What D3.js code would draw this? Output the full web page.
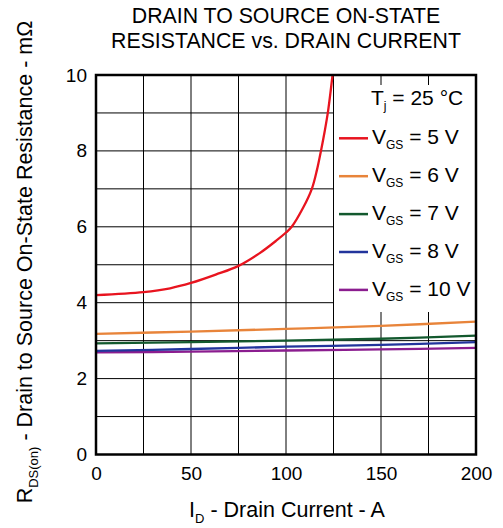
<!DOCTYPE html>
<html><head><meta charset="utf-8">
<script src="https://cdn.jsdelivr.net/npm/d3@7"></script>
<style>body{margin:0;background:#fff}svg{display:block;font-family:"Liberation Sans",Arial,sans-serif}</style>
</head><body><svg id="c" width="503" height="528"></svg>
<script>
const xTicks = [0, 50, 100, 150, 200];
const yTicks = [0, 2, 4, 6, 8, 10];
const seriesNames = ["5 V", "6 V", "7 V", "8 V", "10 V"];
const seriesColors = ["#e8141f", "#e8843a", "#13592e", "#22349c", "#8b1d8f"];
const vgs5 = [[0,4.2],[25,4.28],[39,4.38],[50,4.52],[63,4.74],[75,4.97],[86,5.3],[95,5.64],[100,5.85],[103,6.0],[109,6.5],[113.6,7.0],[116.3,7.5],[118.4,8.0],[120.3,8.5],[122,9.0],[124.5,10]];
const vgs6 = [[0,3.18],[50,3.24],[100,3.31],[150,3.39],[200,3.5]];
const vgs7 = [[0,2.93],[50,2.96],[100,3.0],[150,3.05],[200,3.13]];
const vgs8 = [[0,2.73],[50,2.78],[100,2.84],[150,2.89],[200,2.96]];
const vgs10 = [[0,2.69],[50,2.71],[100,2.74],[150,2.77],[200,2.81]];
const series = [vgs5, vgs6, vgs7, vgs8, vgs10];

const svg = d3.select("#c");
const L = 96, R = 476, T = 75, B = 454.5;
const x = d3.scaleLinear().domain([0, 200]).range([L, R]);
const y = d3.scaleLinear().domain([0, 10]).range([B, T]);

// grid
const g = svg.append("g");
g.selectAll("line.v").data(d3.range(25, 200, 25)).join("line")
  .attr("x1", d => x(d)).attr("x2", d => x(d)).attr("y1", T).attr("y2", B)
  .attr("stroke", "#000").attr("stroke-width", 1);
g.selectAll("line.h").data(d3.range(1, 10, 1)).join("line")
  .attr("x1", L).attr("x2", R).attr("y1", d => y(d)).attr("y2", d => y(d))
  .attr("stroke", "#000").attr("stroke-width", 1);

// curves
svg.append("clipPath").attr("id", "pc").append("rect")
  .attr("x", L).attr("y", T).attr("width", R - L).attr("height", B - T);
const line = d3.line().x(d => x(d[0])).y(d => y(d[1])).curve(d3.curveCatmullRom.alpha(0.5));
svg.append("g").attr("clip-path", "url(#pc)").selectAll("path").data(series.slice().reverse()).join("path")
  .attr("d", line).attr("fill", "none")
  .attr("stroke", (d, i) => seriesColors[series.length - 1 - i]).attr("stroke-width", 2.3);

// legend box
const lg = svg.append("g");
lg.append("rect").attr("x", x(125) + 0.5).attr("y", 85).attr("width", R - x(125) - 0.5).attr("height", 227).attr("fill", "#fff");
const tj = lg.append("text").attr("x", 371).attr("y", 105).attr("font-size", 21).attr("fill", "#000");
tj.append("tspan").text("T");
tj.append("tspan").attr("font-size", 12).attr("dy", 5).text("j");
tj.append("tspan").attr("dy", -5).text(" = 25\u00A0\u00B0C");
seriesNames.forEach((n, i) => {
  const yy = 138.3 + i * 37.9;
  lg.append("line").attr("x1", 339).attr("x2", 368).attr("y1", yy).attr("y2", yy)
    .attr("stroke", seriesColors[i]).attr("stroke-width", 2.5);
  const t = lg.append("text").attr("x", 372).attr("y", yy + 6).attr("font-size", 21).attr("fill", "#000");
  t.append("tspan").text("V");
  t.append("tspan").attr("font-size", 12).attr("dy", 5).text("GS");
  t.append("tspan").attr("dy", -5).text(" = " + n);
});

// frame
svg.append("rect").attr("x", L).attr("y", T).attr("width", R - L).attr("height", B - T)
  .attr("fill", "none").attr("stroke", "#000").attr("stroke-width", 2.5);

// axes (tick labels only)
const xa = svg.append("g").attr("transform", `translate(0,${B})`).call(d3.axisBottom(x).tickValues(xTicks).tickSize(0).tickPadding(12));
xa.select(".domain").remove();
xa.selectAll("text").attr("font-size", 19).attr("fill", "#000").attr("font-family", "Liberation Sans, Arial, sans-serif");
const ya = svg.append("g").attr("transform", `translate(${L},0)`).call(d3.axisLeft(y).tickValues(yTicks).tickSize(0).tickPadding(9));
ya.select(".domain").remove();
ya.selectAll("text").attr("font-size", 19).attr("fill", "#000").attr("font-family", "Liberation Sans, Arial, sans-serif");

// title
const ttl = svg.append("text").attr("text-anchor", "middle").attr("font-size", 21.3).attr("fill", "#000");
ttl.append("tspan").attr("x", 286).attr("y", 22.7).text("DRAIN TO SOURCE ON-STATE");
ttl.append("tspan").attr("x", 286).attr("y", 48.3).text("RESISTANCE vs. DRAIN CURRENT");

// x label
const xl = svg.append("text").attr("x", 287).attr("y", 517).attr("text-anchor", "middle").attr("font-size", 21.5).attr("fill", "#000");
xl.append("tspan").text("I");
xl.append("tspan").attr("font-size", 13).attr("dy", 6).text("D");
xl.append("tspan").attr("dy", -6).text(" - Drain Current - A");

// y label
const yl = svg.append("text").attr("transform", `translate(31.5,262) rotate(-90)`)
  .attr("text-anchor", "middle").attr("font-size", 21.5).attr("fill", "#000");
yl.append("tspan").text("R");
yl.append("tspan").attr("font-size", 13).attr("dy", 6).text("DS(on)");
yl.append("tspan").attr("dy", -6).text(" - Drain to Source On-State Resistance - m\u03A9");
</script></body></html>
